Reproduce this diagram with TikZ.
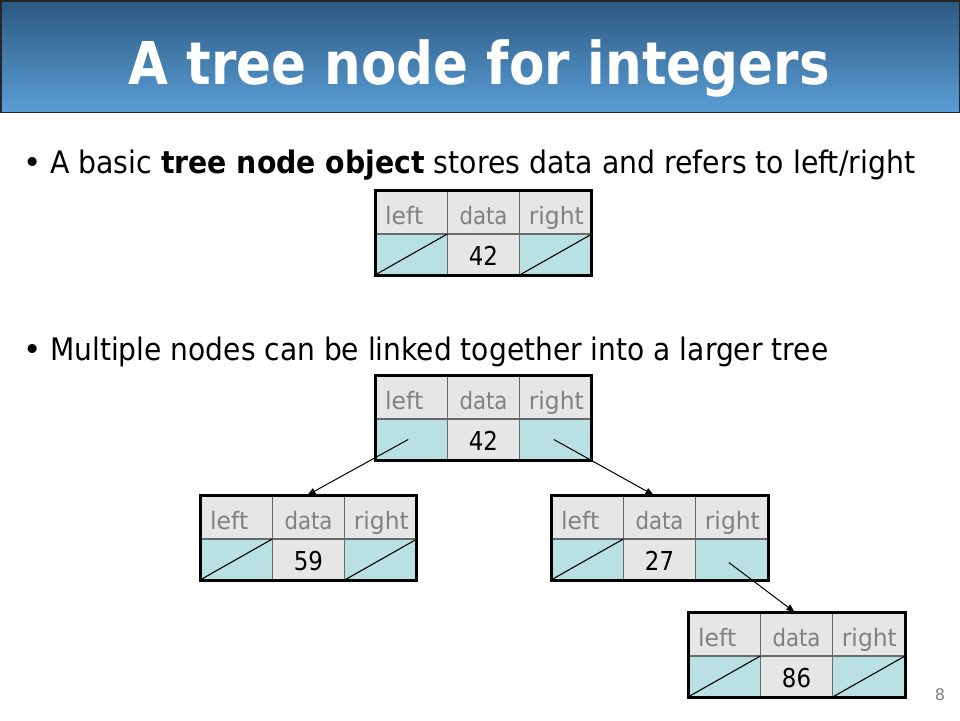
\documentclass[tikz,border=0pt]{standalone}
\usepackage{fontspec}
\setmainfont{DejaVu Sans}
\usetikzlibrary{arrows.meta}
\definecolor{cellgray}{HTML}{E6E6E6}
\definecolor{cellcyan}{HTML}{B9E0E3}
\definecolor{lblgray}{HTML}{808080}
\definecolor{innerline}{HTML}{6A6A6A}
\definecolor{titletop}{HTML}{2C5880}
\definecolor{titlebot}{HTML}{5A9ED6}
\tikzset{
  cell/.style={draw=innerline, line width=1.5pt, rectangle, inner sep=0pt, outer sep=0pt,
    minimum width=72.33pt, minimum height=44pt, anchor=north west},
  cellb/.style={cell, minimum height=41pt},
  lbl/.style={anchor=base west, inner sep=0pt, text=lblgray, font=\fontsize{24}{26}\selectfont},
  num/.style={anchor=base, inner sep=0pt, text=black, font=\fontsize{26}{28}\selectfont},
  outerbox/.style={draw=black, line width=3pt},
  diag/.style={draw=black, line width=1.1pt},
  arr/.style={draw=black, line width=1pt, -{Triangle[length=8pt,width=6.5pt]}},
  body/.style={anchor=base west, inner sep=0pt, font=\fontsize{31}{34}\selectfont},
}
\newcommand{\tnode}[4]{%
  \node[cell, fill=cellgray] (#1-l) at (#2,-#3) {};
  \node[cell, fill=cellgray] (#1-d) at (#1-l.north east) {};
  \node[cell, fill=cellgray] (#1-r) at (#1-d.north east) {};
  \node[cellb, fill=cellcyan] (#1-lb) at (#1-l.south west) {};
  \node[cellb, fill=cellgray] (#1-db) at (#1-d.south west) {};
  \node[cellb, fill=cellcyan] (#1-rb) at (#1-r.south west) {};
  \node[lbl] (#1-tl) at ([shift={(10pt,10pt)}]#1-l.south west) {\resizebox{38pt}{\height}{left}};
  \node[lbl] (#1-td) at ([shift={(12pt,10pt)}]#1-d.south west) {\resizebox{48pt}{\height}{data}};
  \node[lbl] (#1-tr) at ([shift={(9pt,10pt)}]#1-r.south west) {\resizebox{55pt}{\height}{right}};
  \node[num] (#1-v) at ([yshift=10pt]#1-db.south) {\scalebox{0.88}[1]{#4}};
  \draw[outerbox] (#1-l.north west) rectangle (#1-rb.south east);
}
\begin{document}
\begin{tikzpicture}[x=1pt,y=1pt]
\useasboundingbox (0,0) rectangle (960,-720);
% title bar
\shade[top color=titletop, bottom color=titlebot] (0,0) rectangle (960,-112.5);
\draw[line width=1.5pt, draw=black!85] (0.75,-0.75) rectangle (959.25,-112.5);
\node[anchor=base, inner sep=0pt, text=white, font=\fontsize{59}{62}\selectfont\bfseries] (title) at (479.5,-84) {\resizebox{701pt}{\height}{A tree node for integers}};
% bullets
\node[body] (dot1) at (23,-173) {•};
\node[body] (b1) at (50,-173) {\resizebox{865pt}{\height}{A basic \textbf{tree node object} stores data and refers to left/right}};
\node[body] (dot2) at (23,-360) {•};
\node[body] (b2) at (50,-360) {\resizebox{778pt}{\height}{Multiple nodes can be linked together into a larger tree}};
% nodes
\tnode{A}{375}{190}{42}
\draw[diag] (A-lb.south west) -- (A-lb.north east);
\draw[diag] (A-rb.south west) -- (A-rb.north east);
\tnode{root}{375}{375}{42}
\tnode{L}{200}{495}{59}
\draw[diag] (L-lb.south west) -- (L-lb.north east);
\draw[diag] (L-rb.south west) -- (L-rb.north east);
\tnode{R}{551}{495}{27}
\draw[diag] (R-lb.south west) -- (R-lb.north east);
\tnode{C}{688}{612}{86}
\draw[diag] (C-lb.south west) -- (C-lb.north east);
\draw[diag] (C-rb.south west) -- (C-rb.north east);
% arrows
\draw[arr] ([shift={(-3pt,0pt)}]root-lb.center) -- ([xshift=-1pt]L-d.north);
\draw[arr] ([shift={(-2pt,0pt)}]root-rb.center) -- ([xshift=-6pt]R-d.north);
\draw[arr] ([shift={(-3pt,-3pt)}]R-rb.center) -- ([xshift=-2pt]C-d.north);
% page number
\node[anchor=base, inner sep=0pt, text=lblgray, font=\fontsize{16}{18}\selectfont] (pg) at (940,-700) {8};
\end{tikzpicture}
\end{document}
